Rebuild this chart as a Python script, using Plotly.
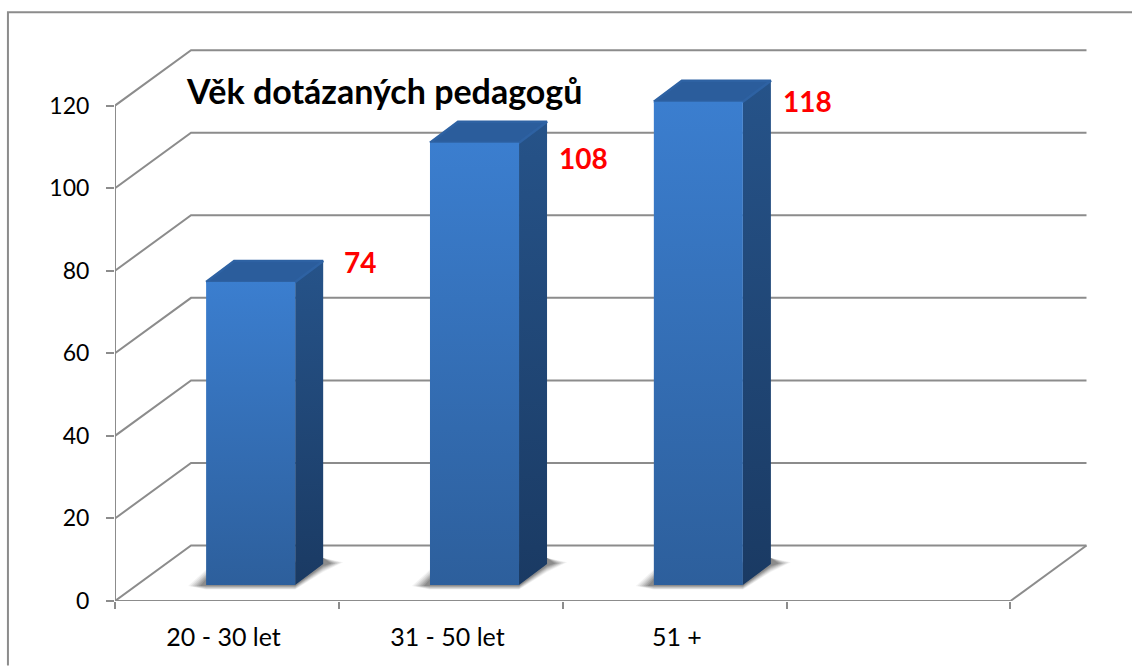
import plotly.graph_objects as go

categories = ["20 - 30 let", "31 - 50 let", "51 +", ""]
values = [74, 108, 118]
y_ticks = [0, 20, 40, 60, 80, 100, 120]
label_shift = [8, -0.8, 3]
category_pos = [0.485, 1.485, 2.51, 3.5]
title = "Věk dotázaných pedagogů"

# velikost jednoho pixelu v jednotkach os
UX = 1 / 223.75
UY = 1 / 4.133
W, H = 1132, 666
X_MAX, Y_MAX = 4.4, 140
L = 115
B = 64.5
R = W - L - X_MAX / UX
T = H - B - Y_MAX / UY

WALL_X = 76 * UX
WALL_Y = 55.5 * UY
BAR_LEFT = 0.407
BAR_W = 89 * UX
BAR_LIFT = 16 * UY
BAR_SCALE = 0.992
SIDE_X = 28 * UX
SIDE_Y = 21 * UY
GRID = "#8c8c8c"
FONT = "Lato"
n = len(categories)

fig = go.Figure()

# mrizka na zadni stene a bocni diagonaly
gx, gy = [], []
for v in y_ticks:
    gx += [0, WALL_X, n + WALL_X, None]
    gy += [v, v + WALL_Y, v + WALL_Y, None]
gx += [n, n + WALL_X, None]
gy += [0, WALL_Y, None]
# osy jen do posledni znacky
gx += [0, 0, None, 0, n]
gy += [y_ticks[-1], 0, None, 0, 0]
fig.add_trace(go.Scatter(x=gx, y=gy, mode="lines", hoverinfo="skip",
                         line=dict(color=GRID, width=2)))


def poly(xs, ys, color=None, gradient=None, line=None, width=1.5):
    fig.add_trace(go.Scatter(
        x=xs + xs[:1], y=ys + ys[:1], mode="lines", fill="toself",
        fillcolor=color, fillgradient=gradient, hoverinfo="skip",
        line=dict(color=line or "rgba(0,0,0,0)", width=width if line else 0)))


def vgrad(bottom, top, low, high):
    return dict(type="vertical", colorscale=[[0, bottom], [1, top]], start=low, stop=high)


for i, v in enumerate(values):
    x0 = i + BAR_LEFT
    x1 = x0 + BAR_W
    y0 = BAR_LIFT
    y1 = y0 + v * BAR_SCALE
    # stin na podlaze, rozmazany po vrstvach
    for grow, alpha in [(12, 0.07), (10, 0.09), (8, 0.11), (6, 0.13), (4, 0.16), (2, 0.19), (0, 0.23)]:
        poly([x0 - (6 + grow) * UX, x0, x1 + SIDE_X, x1 + SIDE_X + (8 + grow) * UX, x1 + SIDE_X, x1, x0],
             [y0 - 1 * UY, y0 + (6 + grow * 0.8) * UY, y0 + SIDE_Y + 6 * UY, y0 + SIDE_Y + (0.5 + grow * 0.1) * UY,
              y0 + SIDE_Y - (2 + grow * 0.5) * UY, y0 - (1 + grow * 0.3) * UY, y0 - (1 + grow * 0.3) * UY],
             color="rgba(80,80,80,%.2f)" % alpha)
    # bok
    poly([x1, x1 + SIDE_X, x1 + SIDE_X, x1], [y0, y0 + SIDE_Y, y1 + SIDE_Y, y1],
         gradient=vgrad("#1a3a63", "#265389", y0, y1 + SIDE_Y))
    # vrsek
    poly([x0, x1, x1 + SIDE_X, x0 + SIDE_X], [y1, y1, y1 + SIDE_Y, y1 + SIDE_Y],
         color="#2b5d9c", line="#2e62a3", width=2.5)
    # celo
    poly([x0, x1, x1, x0], [y0, y0, y1, y1],
         gradient=vgrad("#2d5f9c", "#3b7ecf", y0, y1))

plot_w = W - L - R
plot_h = H - T - B
fig.update_layout(
    width=W, height=H,
    margin=dict(l=L, r=R, t=T, b=B, pad=0),
    paper_bgcolor="white", plot_bgcolor="rgba(0,0,0,0)",
    showlegend=False,
    font=dict(family=FONT, size=23, color="black"),
    xaxis=dict(
        range=[0, X_MAX], showgrid=False, zeroline=False, showline=False,
        tickmode="array", tickvals=category_pos, ticktext=categories,
        ticks="", ticklabelstandoff=19, tickfont=dict(family=FONT, size=25),
        minor=dict(tickmode="linear", tick0=0, dtick=1, ticks="outside", ticklen=7, tickcolor=GRID, tickwidth=1.5),
    ),
    yaxis=dict(
        range=[0, Y_MAX], showgrid=False, zeroline=False, showline=False,
        tickmode="array", tickvals=y_ticks, ticks="outside", ticklen=8, tickcolor=GRID, tickwidth=1.5,
        ticklabelstandoff=12, tickfont=dict(family=FONT, size=23),
    ),
    shapes=[dict(type="path", xref="paper", yref="paper", line=dict(color="#8c8c8c", width=2),
                 path="M %f %f L %f %f L %f %f" % (
                     (8 - L) / plot_w, -B / plot_h,
                     (8 - L) / plot_w, 1 + (T - 12) / plot_h,
                     (W - L) / plot_w, 1 + (T - 12) / plot_h))],
)

annotations = [dict(x=(184 - L) * UX, y=(601 - 89.5) * UY, text="<b>%s</b>" % title, showarrow=False,
                    xanchor="left", yanchor="middle", font=dict(family=FONT, size=34, color="black"))]
for i, v in enumerate(values):
    annotations.append(dict(x=i + 1.095, y=v + label_shift[i], text="<b>%d</b>" % v, showarrow=False,
                            xanchor="center", yanchor="middle", font=dict(family=FONT, size=28, color="#ff0000")))
fig.update_layout(annotations=annotations)

fig.write_html("out.html", post_script="document.body.style.margin='0';",
               config=dict(displayModeBar=False))
